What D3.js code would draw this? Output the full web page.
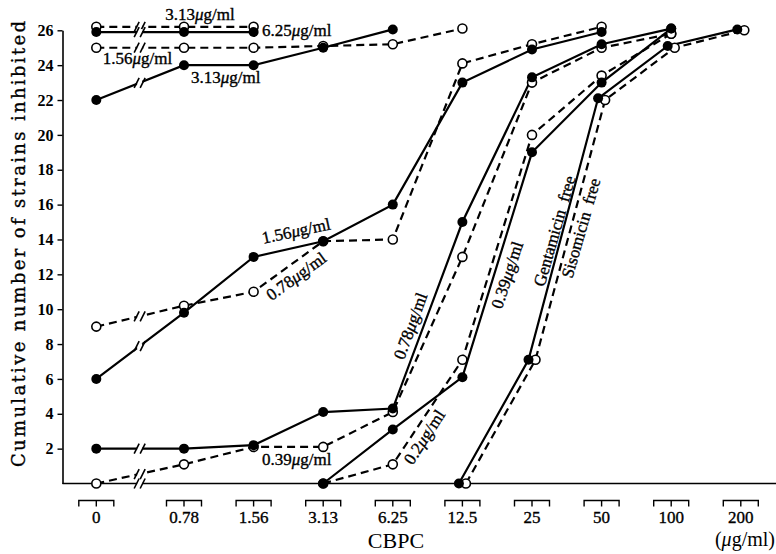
<!DOCTYPE html>
<html>
<head>
<meta charset="utf-8">
<script src="https://cdn.jsdelivr.net/npm/d3@7"></script>
<style>
  body { margin: 0; background: #fff; }
  text { font-family: "Liberation Serif", "Times New Roman", serif; fill: #000; }
  .ink { stroke: #000; stroke-width: 0.35px; }
</style>
</head>
<body>
<div id="chart"></div>
<script>
// categories on the CBPC axis (ug/ml)
var categories = ["0", "0.78", "1.56", "3.13", "6.25", "12.5", "25", "50", "100", "200"];
var yTicks = [2, 4, 6, 8, 10, 12, 14, 16, 18, 20, 22, 24, 26];

// cumulative number of strains inhibited, one value per category (null = no point)
var solidTop      = [25.9, 25.9, 25.9, null, null, null, null, null, null, null];
var dashedTop     = [26.2, 26.2, 26.2, null, null, null, null, null, null, null];
var dashed156     = [25, 25, 25, 25.1, 25.2, 26.1, null, null, null, null];
var solid313      = [22, 24, 24, 25, 26.05, null, null, null, null, null];
var solid156      = [6, 9.8, 13, 13.9, 16, 23, 24.9, 25.9, null, null];
var dashed078     = [9, 10.2, 11, 13.9, 14, 24.1, 25.2, 26.2, null, null];
var solid078      = [2, 2, 2.2, 4.1, 4.3, 15, 23.3, 25.2, 26.1, null];
var dashed039     = [0, 1.1, 2.1, 2.1, 4.1, 13, 23, 25, 25.8, null];
var solid039      = [null, null, null, 0, 3.1, 6.1, 19, 23, 26.1, null];
var dashed02      = [null, null, null, 0, 1.1, 7.1, 20, 23.4, 25.8, null];
var gentamicinFree = [null, null, null, null, null, 0, 7.1, 22.1, 25.1, 26.05];
var sisomicinFree  = [null, null, null, null, null, 0, 7.1, 22, 25, 26];

var series = [
  { values: dashedTop, dashed: true },
  { values: dashed156, dashed: true },
  { values: dashed078, dashed: true },
  { values: dashed039, dashed: true },
  { values: dashed02, dashed: true },
  { values: sisomicinFree, dashed: true, shift: 3.5 },
  { values: solidTop, dashed: false },
  { values: solid313, dashed: false },
  { values: solid156, dashed: false },
  { values: solid078, dashed: false },
  { values: solid039, dashed: false },
  { values: gentamicinFree, dashed: false, shift: -3.5 }
];

// annotation labels: position in (category index, value) units, rotation in degrees
var labels = [
  { num: "3.13", i: 1.23, v: 26.95, rot: 0 },
  { num: "6.25", i: 2.62, v: 26.0, rot: 0 },
  { num: "1.56", i: 0.33, v: 24.42, rot: 0 },
  { num: "3.13", i: 1.6, v: 23.33, rot: 0 },
  { num: "1.56", i: 2.61, v: 14.5, rot: -12 },
  { num: "0.78", i: 2.61, v: 11.9, rot: -36 },
  { num: "0.39", i: 2.62, v: 1.41, rot: 0 },
  { num: "0.78", i: 4.25, v: 9.04, rot: -70 },
  { num: "0.2", i: 4.45, v: 2.67, rot: -57 },
  { num: "0.39", i: 5.64, v: 11.97, rot: -72 },
  { word: "Gentamicin  free", i: 6.32, v: 14.49, rot: -74 },
  { word: "Sisomicin  free", i: 6.7, v: 14.66, rot: -74 }
];

var width = 776, height = 554;

var svg = d3.select("#chart").append("svg")
    .attr("width", width)
    .attr("height", height);

// "0" sits left of an axis break, the rest are evenly spaced
var xLin = d3.scaleLinear().domain([1, 9]).range([184, 740.8]);
var breakGap = 1.26;
var x = function (i) { return i === 0 ? xLin(1 - breakGap) : xLin(i); };
var y = d3.scaleLinear().domain([0, 26]).range([483.5, 30.3]);
var breakX = (x(0) + x(1)) / 2 - 0.5;

// y axis
var yAxis = svg.append("g")
    .attr("transform", "translate(62.5,0)")
    .call(d3.axisLeft(y).tickValues(yTicks).tickSize(5).tickSizeOuter(0).tickPadding(4));
yAxis.select(".domain").attr("stroke-width", 1.6);
yAxis.selectAll(".tick line").attr("stroke-width", 1.4);
yAxis.selectAll(".tick text")
    .attr("font-family", "Liberation Serif")
    .attr("font-size", 16)
    .attr("font-weight", "bold");

svg.append("text")
    .attr("class", "ink")
    .attr("transform", "translate(25," + 244 + ") rotate(-90)")
    .attr("text-anchor", "middle")
    .attr("font-size", 18)
    .attr("textLength", 446)
    .attr("lengthAdjust", "spacing")
    .style("font-family", "'DejaVu Serif', serif")
    .text("Cumulative number of strains inhibited");

// x axis line
svg.append("line")
    .attr("x1", 62.5).attr("x2", width)
    .attr("y1", y(0)).attr("y2", y(0))
    .attr("stroke", "#000").attr("stroke-width", 1.6);

// bracket ticks with labels
var ticks = svg.append("g").selectAll("g")
    .data(categories)
    .enter()
    .append("g")
    .attr("transform", (d, i) => `translate(${x(i)},${y(0) + 17})`);
ticks.append("path")
    .attr("d", "M -17.5 6 V 0 H 17.5 V 6 M 0 0 V 6")
    .attr("fill", "none")
    .attr("stroke", "#000")
    .attr("stroke-width", 1.4);
ticks.append("text")
    .attr("class", "ink")
    .attr("y", 22)
    .attr("text-anchor", "middle")
    .attr("font-size", 17)
    .text(d => d);

svg.append("text")
    .attr("x", 396).attr("y", 548)
    .attr("text-anchor", "middle")
    .attr("font-size", 22)
    .text("CBPC");

var unit = svg.append("text")
    .attr("x", width - 1).attr("y", 546)
    .attr("text-anchor", "end")
    .attr("font-size", 20);
unit.append("tspan").text("(");
unit.append("tspan").attr("font-style", "italic").text("μ");
unit.append("tspan").text("g/ml)");

// series lines
var line = d3.line()
    .x(d => d.x)
    .y(d => y(d.v));

series.forEach(s => {
  s.points = s.values.map((v, i) => ({ x: x(i) + (s.shift || 0), v: v }))
      .filter(p => p.v !== null);
});

var lineG = svg.append("g");
series.forEach(s => {
  lineG.append("path")
      .datum(s.points)
      .attr("d", line)
      .attr("fill", "none")
      .attr("stroke", "#000")
      .attr("stroke-width", 2.2)
      .attr("stroke-dasharray", s.dashed ? "8,5" : null);
});

// axis breaks between 0 and 0.78
var breaks = [];
series.forEach(s => {
  if (s.values[0] !== null && s.values[1] !== null) {
    var t = (breakX - x(0)) / (x(1) - x(0));
    breaks.push({ bx: breakX, by: y(s.values[0]) + t * (y(s.values[1]) - y(s.values[0])) });
  }
});
breaks.push({ bx: breakX, by: y(0) });

var breakG = svg.append("g").selectAll("g")
    .data(breaks)
    .enter()
    .append("g")
    .attr("transform", d => `translate(${d.bx},${d.by})`);
breakG.append("rect")
    .attr("x", -2.5).attr("y", -3).attr("width", 5).attr("height", 6)
    .attr("fill", "#fff");
breakG.selectAll("line")
    .data([-3, 3])
    .enter()
    .append("line")
    .attr("x1", d => d - 2.5).attr("y1", 5)
    .attr("x2", d => d + 2.5).attr("y2", -5)
    .attr("stroke", "#000")
    .attr("stroke-width", 1.6);

// markers: open circles for dashed, filled for solid
var markG = svg.append("g");
series.forEach(s => {
  markG.selectAll(null)
      .data(s.points)
      .enter()
      .append("circle")
      .attr("cx", d => d.x)
      .attr("cy", d => y(d.v))
      .attr("r", s.dashed ? 4.5 : 5)
      .attr("fill", s.dashed ? "#fff" : "#000")
      .attr("stroke", "#000")
      .attr("stroke-width", s.dashed ? 1.6 : 0);
});

// annotation labels
var labelG = svg.append("g").selectAll("text")
    .data(labels)
    .enter()
    .append("text")
    .attr("class", "ink")
    .attr("transform", d => `translate(${xLin(d.i)},${y(d.v)}) rotate(${d.rot})`)
    .attr("text-anchor", "middle")
    .attr("dy", "0.35em")
    .attr("font-size", 17);
labelG.each(function (d) {
  var t = d3.select(this);
  if (d.word) {
    t.attr("xml:space", "preserve").style("white-space", "pre").text(d.word);
  } else {
    t.append("tspan").text(d.num);
    t.append("tspan").attr("font-style", "italic").text("μ");
    t.append("tspan").text("g/ml");
  }
});
</script>
</body>
</html>
